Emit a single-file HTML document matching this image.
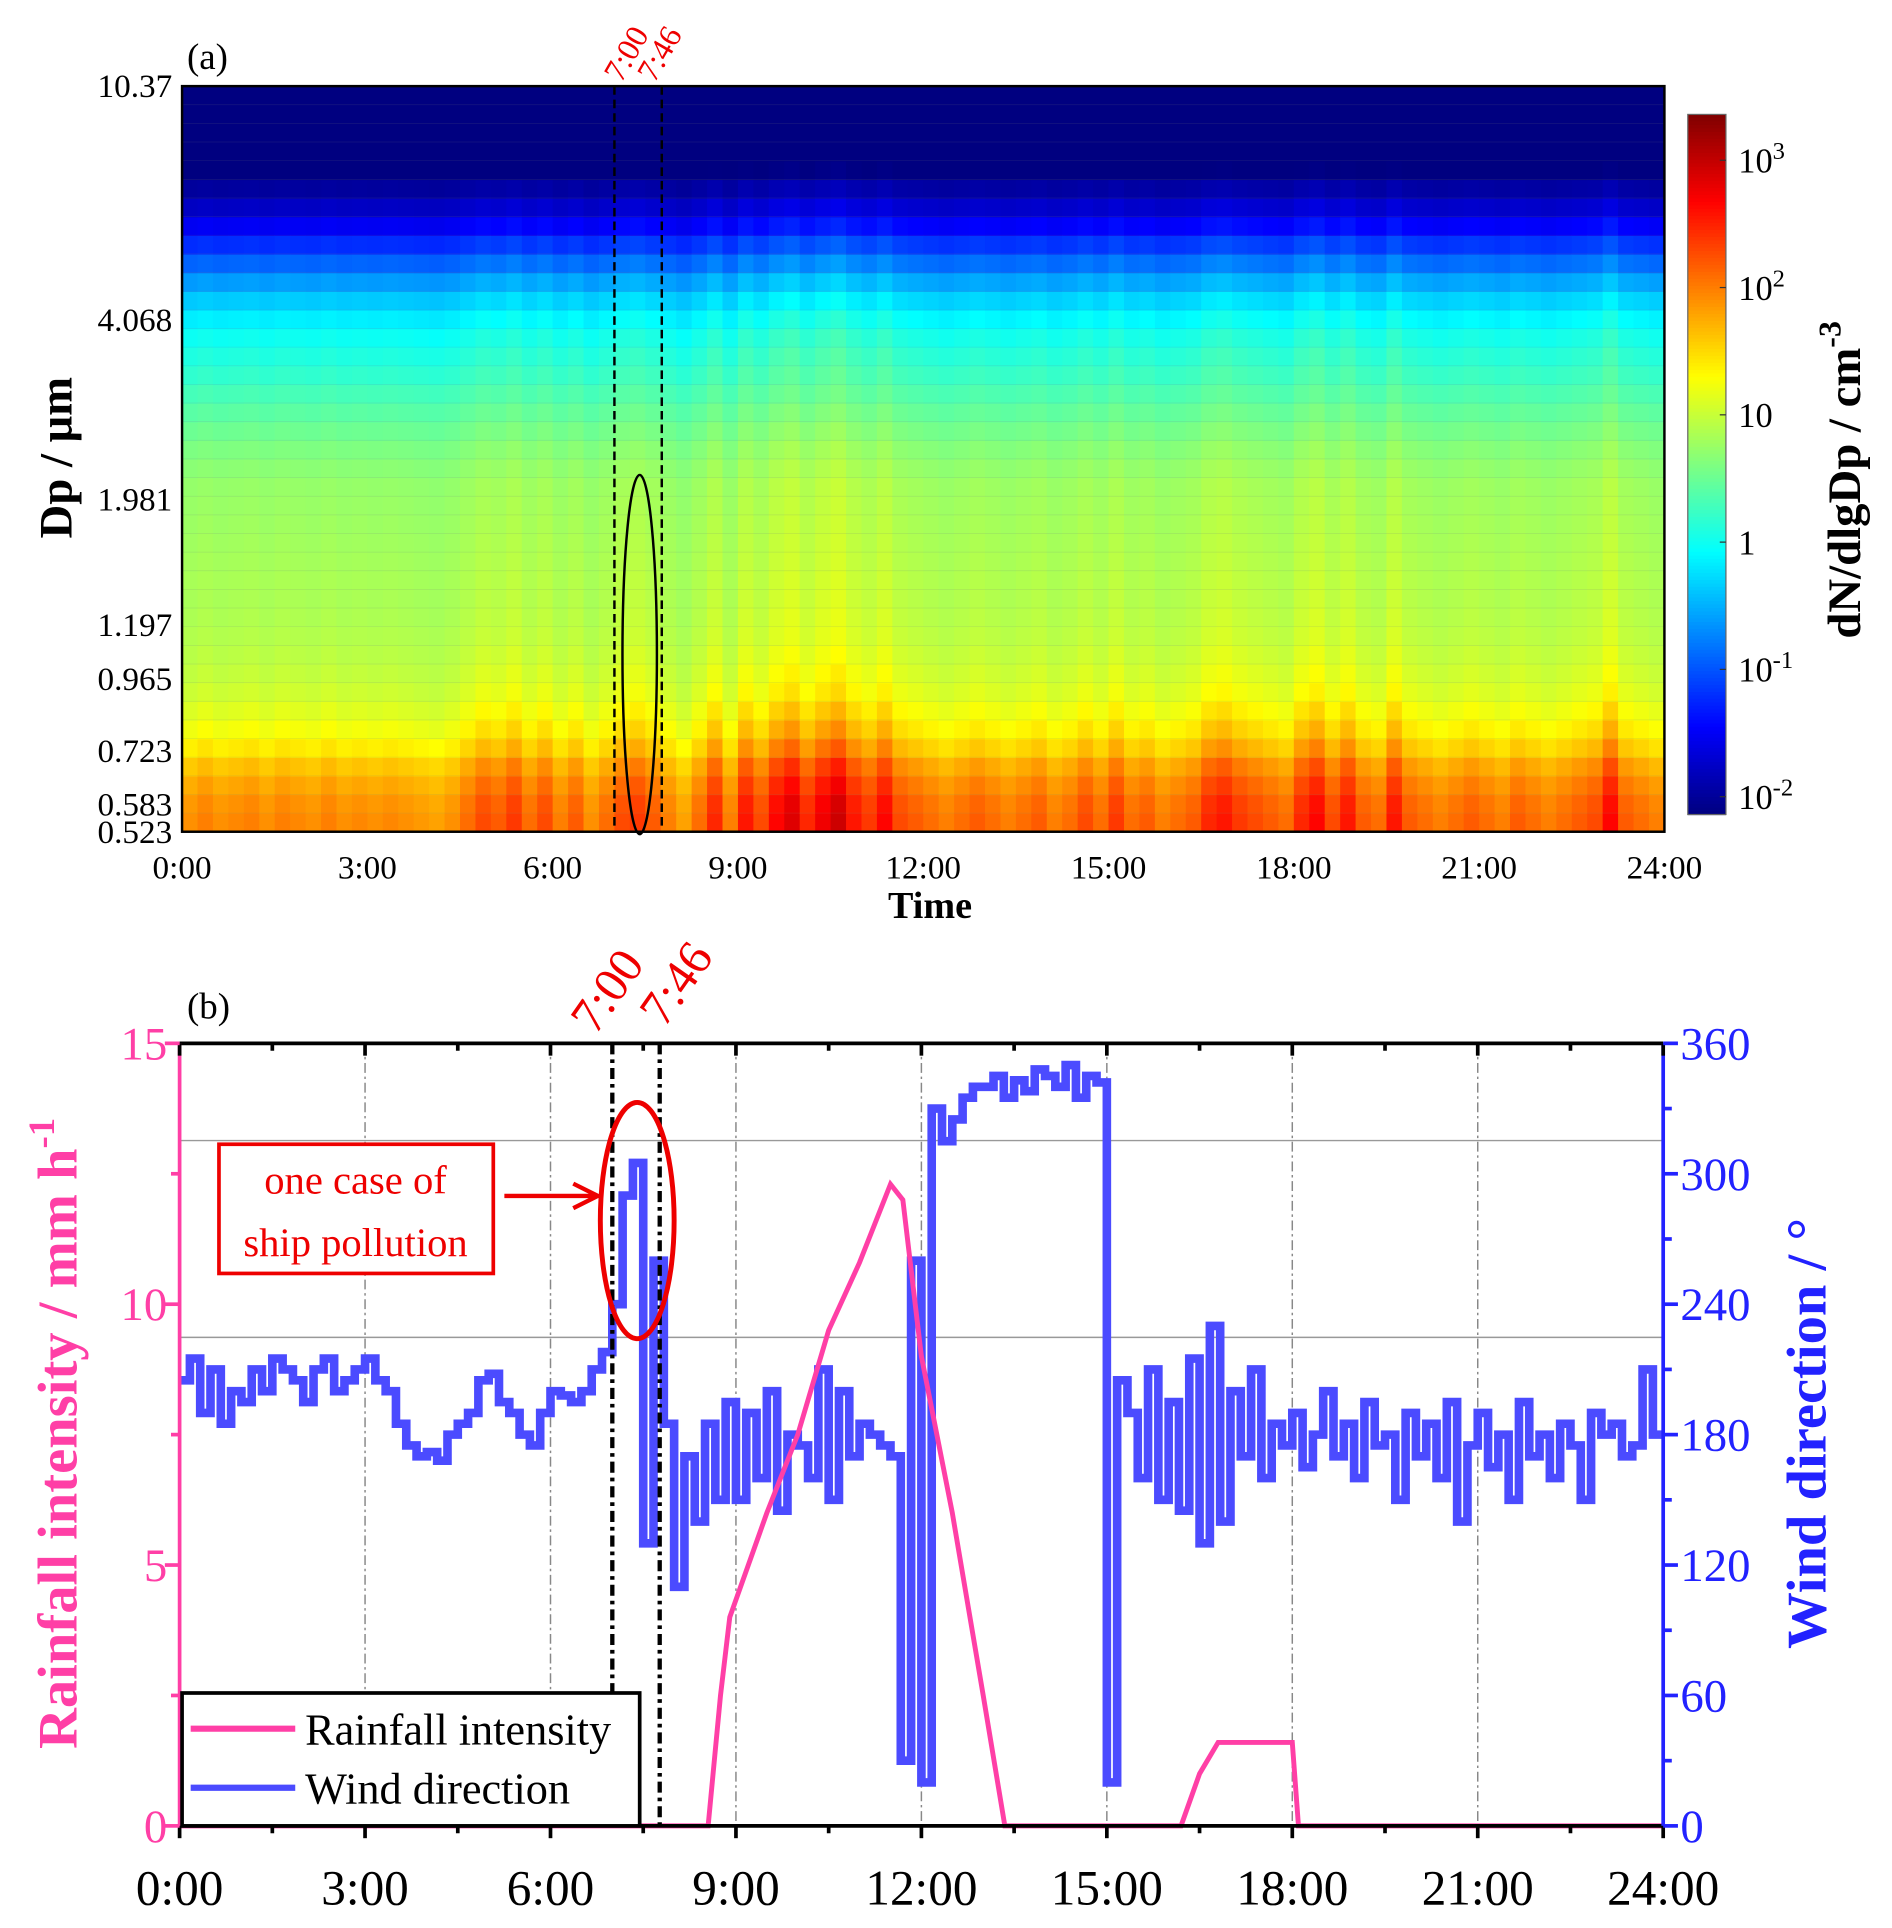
<!DOCTYPE html>
<html><head><meta charset="utf-8"><style>
html,body{margin:0;padding:0;background:#fff}
svg{display:block}
text{font-family:"Liberation Serif",serif}
</style></head><body>
<svg id="fig" width="1892" height="1928" viewBox="0 0 1538 1567" preserveAspectRatio="none" xmlns="http://www.w3.org/2000/svg">
<g id="pa"></g>
<g id="pb"></g>
</svg>
<script>
// ---------- Panel (a) data ----------
const sizeTickLabels = ["0.523","0.583","0.723","0.965","1.197","1.981","4.068","10.37"];
const sizeTickValues = [0.523,0.583,0.723,0.965,1.197,1.981,4.068,10.37];
const timeTickLabels = ["0:00","3:00","6:00","9:00","12:00","15:00","18:00","21:00","24:00"];
const timeTickValues = [0,3,6,9,12,15,18,21,24];
// log10 dN/dlgDp base profile per size row (bottom -> top), 40 rows
const rowBase = [1.8,1.75,1.65,1.5,1.3,1.15,1.05,0.97,0.92,0.88,0.85,0.82,0.8,0.8,0.78,0.76,0.74,0.72,
 0.7,0.64,0.57,0.48,0.38,0.27,0.15,0.05,-0.05,-0.2,-0.4,-0.65,-0.95,-1.25,-1.55,-1.8,-2.0,-2.2,-2.3,-2.3,-2.3,-2.3];
const rowWeight = [0.95,0.95,0.9,0.85,0.75,0.65,0.55,0.45,0.4,0.35,0.3,0.3,0.28,0.26,0.25,0.25,0.25,0.25,
 0.25,0.25,0.25,0.25,0.25,0.25,0.28,0.3,0.3,0.3,0.3,0.3,0.3,0.28,0.25,0.2,0.15,0.1,0.05,0.05,0.05,0.05];
// per 15-min column enhancement (96 columns)
const colBoost = [0.1,0.2,0.1,0.15,0.2,0.1,0.2,0.15,0.1,0.2,0.1,0.15,
 0.1,0.15,0.1,0.05,0.0,0.1,0.3,0.5,0.4,0.6,0.3,0.5,
 0.2,0.4,0.1,0.3,0.5,0.6,0.4,0.2,0.0,0.3,0.7,0.2,
 0.8,0.5,0.9,1.1,0.7,1.0,1.2,0.8,0.6,0.9,0.5,0.4,
 0.3,0.2,0.3,0.4,0.3,0.2,0.3,0.4,0.2,0.3,0.5,0.3,
 0.6,0.3,0.4,0.2,0.3,0.4,0.7,0.8,0.6,0.5,0.4,0.3,
 0.7,0.9,0.5,0.8,0.4,0.3,0.8,0.4,0.3,0.2,0.3,0.4,
 0.3,0.2,0.4,0.3,0.2,0.3,0.4,0.5,0.9,0.4,0.3,0.2];
const cbarTickValues = [3,2,1,0,-1,-2];
const cbarTickLabels = [["10","3"],["10","2"],["10",""],["1",""],["10","-1"],["10","-2"]];

// ---------- Panel (b) data ----------
const rainTimes = [0,8.55,8.75,8.9,9.2,9.5,10,10.5,11,11.5,11.7,12,12.5,13,13.35,16.2,16.5,16.8,18,18.1,24];
const rainValues = [0,0,2.5,4,5,6,7.5,9.5,10.8,12.3,12,9,6,2.5,0,0,1,1.6,1.6,0,0];
const windValues = [
 205,215,190,210,185,200, 195,210,200,215,210,205, 195,210,215,200,205,210,
 215,205,200,185,175,170, 172,168,180,185,190,205, 208,195,190,180,175,190,
 200,198,195,200,210,218, 240,290,305,130,260,185, 110,170,140,185,150,195,
 150,190,160,200,145,180, 175,160,210,150,200,170, 185,180,175,170,30,260,
 20,330,315,325,335,340, 340,345,335,343,338,348, 345,340,350,335,345,342,
 20,205,190,160,210,150, 195,145,215,130,230,140, 200,170,210,160,185,175,
 190,165,180,200,170,185, 160,195,175,180,150,190, 170,185,160,195,140,175,
 190,165,180,150,195,170, 180,160,185,175,150,190, 180,185,170,175,210,180];
const rainTickValues = [0,5,10,15];
const windTickValues = [0,60,120,180,240,300,360];

const NS = "http://www.w3.org/2000/svg";
function mk(parent, tag, attrs, txt){
  const e = document.createElementNS(NS, tag);
  for (const k in attrs) e.setAttribute(k, attrs[k]);
  if (txt !== undefined) e.textContent = txt;
  parent.appendChild(e);
  return e;
}
function jet(t){
  t = Math.max(0, Math.min(1, t));
  const r = Math.max(0, Math.min(1, 1.5 - Math.abs(4*t - 3)));
  const g = Math.max(0, Math.min(1, 1.5 - Math.abs(4*t - 2)));
  const b = Math.max(0, Math.min(1, 1.5 - Math.abs(4*t - 1)));
  return `rgb(${Math.round(r*255)},${Math.round(g*255)},${Math.round(b*255)})`;
}

// ================= Panel A =================
const pa = document.getElementById('pa');
const AX0 = 148, AX1 = 1353, AY0 = 70, AY1 = 676;
const LMIN = Math.log10(0.523), LMAX = Math.log10(10.37);
const ax = h => AX0 + h/24*(AX1-AX0);
const ay = d => AY1 - (Math.log10(d)-LMIN)/(LMAX-LMIN)*(AY1-AY0);
const CMIN = -2.14, CMAX = 3.36;
const cnorm = v => (v - CMIN)/(CMAX - CMIN);

const hm = mk(pa, 'g', {});


const nR = rowBase.length, nC = colBoost.length;
const rowH = (AY1-AY0)/nR, colW = (AX1-AX0)/nC;
for (let c = 0; c < nC; c++) {
  for (let r = 0; r < nR; r++) {
    const v = rowBase[r] + colBoost[c]*rowWeight[r];
    const cell = mk(hm, 'rect', {x:(AX0+c*colW).toFixed(2), y:(AY1-(r+1)*rowH).toFixed(2), width:(colW+0.6).toFixed(2), height:(rowH+0.6).toFixed(2), fill:jet(cnorm(v))});
    
    
  }
}
for (let r = 1; r < nR; r++) mk(hm, 'line', {x1:AX0, x2:AX1, y1:AY1-r*rowH, y2:AY1-r*rowH, stroke:'rgba(120,120,120,0.18)', 'stroke-width':0.6});
mk(pa, 'rect', {x:AX0, y:AY0, width:AX1-AX0, height:AY1-AY0, fill:'none', stroke:'#000', 'stroke-width':2});

const ayl = mk(pa, 'g', {});


sizeTickValues.forEach((d,i)=>{
  const t = mk(ayl, 'text', {x:140, y:ay(d)+9, 'text-anchor':'end', 'font-size':27}, sizeTickLabels[i]);
  
  
});
const axl = mk(pa, 'g', {});


timeTickValues.forEach((h,i)=>{
  const t = mk(axl, 'text', {x:ax(h), y:714, 'text-anchor':'middle', 'font-size':27}, timeTickLabels[i]);
  
  
});
mk(pa, 'text', {x:756, y:746, 'text-anchor':'middle', 'font-size':31, 'font-weight':'bold',  }, 'Time');
mk(pa, 'text', {x:58, y:372, 'text-anchor':'middle', 'font-size':38, 'font-weight':'bold', transform:'rotate(-90 58 372)',  }, 'Dp / μm');
mk(pa, 'text', {x:152, y:56, 'font-size':30,  }, '(a)');
[7, 7+46/60].forEach(h=>{
  mk(pa, 'line', {x1:ax(h), x2:ax(h), y1:AY0, y2:AY1, stroke:'#000', 'stroke-width':2, 'stroke-dasharray':'7,4',  });
});
mk(pa, 'text', {x:505, y:68, fill:'#e00', 'font-size':26, transform:'rotate(-60 505 68)',  }, '7:00');
mk(pa, 'text', {x:532, y:68, fill:'#e00', 'font-size':26, transform:'rotate(-60 532 68)',  }, '7:46');
mk(pa, 'ellipse', {cx:520, cy:532, rx:14, ry:146, fill:'none', stroke:'#000', 'stroke-width':2,  });

// colorbar
const CB0 = 93, CB1 = 662, CBX = 1372, CBW = 31;
const cb = mk(pa, 'g', {});


for (let i = 0; i < 200; i++) {
  const y = CB0 + i*(CB1-CB0)/200;
  mk(cb, 'rect', {x:CBX, y:y, width:CBW, height:(CB1-CB0)/200+0.5, fill:jet(1 - (i+0.5)/200)});
}
mk(cb, 'rect', {x:CBX, y:CB0, width:CBW, height:CB1-CB0, fill:'none', stroke:'#666', 'stroke-width':1});
const cby = v => CB1 - (v - CMIN)/(CMAX-CMIN)*(CB1-CB0);
cbarTickValues.forEach((v,i)=>{
  mk(cb, 'line', {x1:CBX+CBW-5, x2:CBX+CBW, y1:cby(v), y2:cby(v), stroke:'#333', 'stroke-width':1});
  const t = mk(cb, 'text', {x:1413, y:cby(v)+10, 'font-size':28});
  
  
  mk(t, 'tspan', {}, cbarTickLabels[i][0]);
  if (cbarTickLabels[i][1]) mk(t, 'tspan', {dy:-11, 'font-size':20}, cbarTickLabels[i][1]);
});
const cbt = mk(pa, 'text', {x:1512, y:390, 'text-anchor':'middle', 'font-size':38, 'font-weight':'bold', transform:'rotate(-90 1512 390)',  });
mk(cbt, 'tspan', {}, 'dN/dlgDp / cm');
mk(cbt, 'tspan', {dy:-16, 'font-size':26}, '-3');

// ================= Panel B =================
const pb = document.getElementById('pb');
const BX0 = 146, BX1 = 1352, BY0 = 848, BY1 = 1484;
const PINK = '#ff3fa6', BLUE = '#2222ff', WBLUE = '#4b4bff';
const bx = h => BX0 + h/24*(BX1-BX0);
const byR = v => BY1 - v/15*(BY1-BY0);
const byW = v => BY1 - v/360*(BY1-BY0);

[927,1087].forEach(y=>mk(pb, 'line', {x1:BX0, x2:BX1, y1:y, y2:y, stroke:'#999', 'stroke-width':1.2,  }));
[3,6,9,12,15,18,21].forEach(h=>mk(pb, 'line', {x1:bx(h), x2:bx(h), y1:BY0, y2:BY1, stroke:'#888', 'stroke-width':1.2, 'stroke-dasharray':'8,3,2,3',  }));

let wd = '';
const step = 24/windValues.length;
windValues.forEach((v,i)=>{
  const x0 = bx(i*step), x1 = bx((i+1)*step), y = byW(v);
  wd += (i===0 ? `M${x0},${y}` : `L${x0},${y}`) + `L${x1},${y}`;
});
mk(pb, 'path', {d:wd, fill:'none', stroke:WBLUE, 'stroke-width':7, 'stroke-linejoin':'miter',  });
const rd = rainTimes.map((h,i)=>(i?'L':'M')+bx(h)+','+byR(rainValues[i])).join('');
mk(pb, 'path', {d:rd, fill:'none', stroke:PINK, 'stroke-width':4,  });

[7, 7+46/60].forEach(h=>mk(pb, 'line', {x1:bx(h), x2:bx(h), y1:BY0, y2:BY1, stroke:'#000', 'stroke-width':3.5, 'stroke-dasharray':'9,4,3,4',  }));
mk(pb, 'text', {x:484, y:842, fill:'#e00', 'font-size':40, transform:'rotate(-55 484 842)',  }, '7:00');
mk(pb, 'text', {x:540, y:836, fill:'#e00', 'font-size':40, transform:'rotate(-55 540 836)',  }, '7:46');

mk(pb, 'line', {x1:BX0, x2:BX1, y1:BY0, y2:BY0, stroke:'#000', 'stroke-width':3,  });
mk(pb, 'line', {x1:BX0, x2:BX1, y1:BY1, y2:BY1, stroke:'#000', 'stroke-width':3,  });
mk(pb, 'line', {x1:BX0, x2:BX0, y1:BY0, y2:BY1, stroke:PINK, 'stroke-width':3,  });
mk(pb, 'line', {x1:BX1, x2:BX1, y1:BY0, y2:BY1, stroke:BLUE, 'stroke-width':3,  });
for (let h = 0; h <= 24; h += 1.5) {
  const L = (h % 3 === 0) ? 10 : 6;
  mk(pb, 'line', {x1:bx(h), x2:bx(h), y1:BY1, y2:BY1+L, stroke:'#000', 'stroke-width':3});
  mk(pb, 'line', {x1:bx(h), x2:bx(h), y1:BY0, y2:BY0+L, stroke:'#000', 'stroke-width':3});
}
for (let v = 0; v <= 15; v += 2.5) {
  const L = (v % 5 === 0) ? 12 : 7;
  mk(pb, 'line', {x1:BX0-L, x2:BX0, y1:byR(v), y2:byR(v), stroke:PINK, 'stroke-width':3});
}
for (let v = 0; v <= 360; v += 30) {
  const L = (v % 60 === 0) ? 12 : 7;
  mk(pb, 'line', {x1:BX1, x2:BX1+L, y1:byW(v), y2:byW(v), stroke:BLUE, 'stroke-width':3});
}
rainTickValues.forEach(v=>{
  const t = mk(pb, 'text', {x:136, y:byR(v)+13, 'text-anchor':'end', 'font-size':38, fill:PINK}, String(v));
  
  
});
windTickValues.forEach(v=>{
  const t = mk(pb, 'text', {x:1366, y:byW(v)+13, 'font-size':38, fill:BLUE}, String(v));
  
  
});
timeTickValues.forEach((h,i)=>{
  const t = mk(pb, 'text', {x:bx(h), y:1548, 'text-anchor':'middle', 'font-size':40}, timeTickLabels[i]);
  
  
});
const lt = mk(pb, 'text', {x:62, y:1165, 'text-anchor':'middle', 'font-size':46, 'font-weight':'bold', fill:PINK, transform:'rotate(-90 62 1165)',  });
mk(lt, 'tspan', {}, 'Rainfall intensity / mm h');
mk(lt, 'tspan', {dy:-18, 'font-size':30}, '-1');
mk(pb, 'text', {x:1484, y:1165, 'text-anchor':'middle', 'font-size':46, 'font-weight':'bold', fill:BLUE, transform:'rotate(-90 1484 1165)',  }, 'Wind direction / °');
mk(pb, 'text', {x:152, y:828, 'font-size':30,  }, '(b)');

mk(pb, 'rect', {x:178, y:930, width:223, height:105, fill:'#fff', stroke:'#e00', 'stroke-width':3,  });
mk(pb, 'text', {x:289, y:970, 'text-anchor':'middle', 'font-size':33, fill:'#e00',  }, 'one case of');
mk(pb, 'text', {x:289, y:1021, 'text-anchor':'middle', 'font-size':33, fill:'#e00',  }, 'ship pollution');
mk(pb, 'path', {d:'M410,972 L484,972 M466,962 L486,972 L466,982', fill:'none', stroke:'#e00', 'stroke-width':3.5,  });
mk(pb, 'ellipse', {cx:518, cy:992, rx:30, ry:96, fill:'none', stroke:'#e00', 'stroke-width':4,  });

const lg = mk(pb, 'g', {});


mk(lg, 'rect', {x:148, y:1376, width:372, height:108, fill:'#fff', stroke:'#000', 'stroke-width':3});
mk(lg, 'line', {x1:155, x2:240, y1:1405, y2:1405, stroke:PINK, 'stroke-width':5});
mk(lg, 'line', {x1:155, x2:240, y1:1453, y2:1453, stroke:WBLUE, 'stroke-width':5});
mk(lg, 'text', {x:248, y:1418, 'font-size':36,  }, 'Rainfall intensity');
mk(lg, 'text', {x:248, y:1466, 'font-size':36,  }, 'Wind direction');
</script>
</body></html>
